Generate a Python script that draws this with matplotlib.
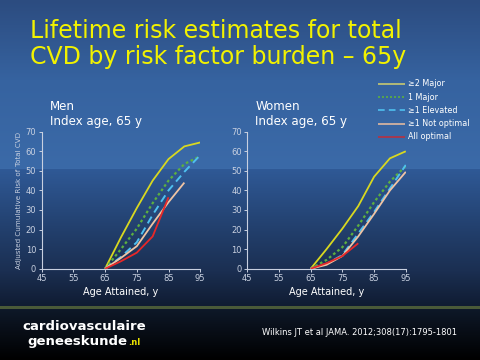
import numpy as np
import matplotlib
matplotlib.use("Agg")
import matplotlib.pyplot as plt

# ---- data ----
ages = [65, 70, 75, 80, 85, 90, 95]
series_names = ["\u22652 Major", "1 Major", "\u22651 Elevated", "\u22651 Not optimal", "All optimal"]

men_two_major = [0, 16, 31, 45, 56, 62.5, 64.5]
men_one_major = [0, 10, 20.5, 33.5, 45, 53.5, 57.5]
men_elevated = [0, 6, 13.5, 27.5, 40, 49.5, 58]
men_not_optimal = [0, 5.5, 11.5, 23, 34, 44]
men_all_optimal = [0, 3.8, 8.2, 16.5, 36.5]

women_two_major = [0, 10, 20.5, 32, 47, 56.4, 60]
women_one_major = [0, 4.5, 11, 22, 34, 44.5, 52.5]
women_elevated = [0, 2.5, 7, 18, 29, 41, 53]
women_not_optimal = [0, 2, 6.5, 16.5, 28, 40, 49.5]
women_all_optimal = [0, 2.8, 6.5, 13]

men = [men_two_major, men_one_major, men_elevated, men_not_optimal, men_all_optimal]
women = [women_two_major, women_one_major, women_elevated, women_not_optimal, women_all_optimal]

x_ticks = [45, 55, 65, 75, 85, 95]
y_ticks = [0, 10, 20, 30, 40, 50, 60, 70]

colors = ["#d8d820", "#5cb040", "#4ec0f0", "#f0c4a4", "#e82828"]
legend_colors = ["#c8c870", "#5cb040", "#4ec0f0", "#e0b8a0", "#b83040"]
styles = [(0, ()), (0, (1.2, 1.2)), (0, (4, 2.5)), (0, ()), (0, ())]
widths = [1.3, 1.6, 1.4, 1.3, 1.3]

fig = plt.figure(figsize=(4.8, 3.6), dpi=100)

# ---- background ----
bg = fig.add_axes([0, 0, 1, 1], zorder=-10)
bg.set_axis_off()
H = 360
col = np.zeros((H, 1, 3))
def hexrgb(h):
    h = h.lstrip('#')
    return np.array([int(h[i:i+2], 16) / 255 for i in (0, 2, 4)])
stops = [(0, "#2c4c80"), (80, "#3663a0"), (168, "#3b6aa8"), (169, "#2f5996"),
         (230, "#223f6c"), (270, "#1b2f52"), (305, "#101c32"),
         (306, "#4a5a38"), (308, "#4a5a38"), (309, "#0e1828"), (359, "#000000")]
for y in range(H):
    for (y0, c0), (y1, c1) in zip(stops[:-1], stops[1:]):
        if y0 <= y <= y1:
            t = 0 if y1 == y0 else (y - y0) / (y1 - y0)
            col[y, 0] = hexrgb(c0) * (1 - t) + hexrgb(c1) * t
            break
bg.imshow(col, aspect='auto', extent=[0, 1, 0, 1], transform=bg.transAxes)
bg.set_xlim(0, 1); bg.set_ylim(0, 1)

# ---- title ----
fig.text(30 / 480, 1 - 38 / 360, "Lifetime risk estimates for total", color="#f2f200",
         fontsize=17, family="DejaVu Sans", va="baseline", ha="left")
fig.text(30 / 480, 1 - 64 / 360, "CVD by risk factor burden \u2013 65y", color="#f2f200",
         fontsize=17, family="DejaVu Sans", va="baseline", ha="left")

# ---- panels ----
def panel(left, data, label, ylabel):
    ax = fig.add_axes([left / 480, 1 - 268.7 / 360, 158.5 / 480, 137 / 360])
    ax.set_facecolor("none")
    for vals, c, ls, w in zip(data, colors, styles, widths):
        ax.plot(ages[:len(vals)], vals, color=c, lw=w, linestyle=ls)
    ax.set_xlim(45, 95)
    ax.set_ylim(0, 70)
    ax.set_xticks(x_ticks)
    ax.set_yticks(y_ticks)
    for s in ["top", "right"]:
        ax.spines[s].set_visible(False)
    for s in ["left", "bottom"]:
        ax.spines[s].set_color("#c8d0e0")
        ax.spines[s].set_linewidth(0.8)
    ax.tick_params(colors="#c8d0e0", labelsize=6, length=2.5, width=0.7, pad=1.5)
    ax.set_xlabel("Age Attained, y", color="white", fontsize=7, labelpad=3)
    if ylabel:
        ax.text(-0.145, 0.0, "Adjusted Cumulative Risk of", transform=ax.transAxes,
                rotation=90, color="#c8d0e0", fontsize=5.1, ha="center", va="bottom")
        ax.text(-0.145, 1.0, "Total CVD", transform=ax.transAxes,
                rotation=90, color="#c8d0e0", fontsize=5.1, ha="center", va="top")
    fig.text((left + 8) / 480, 1 - 110 / 360, label[0], color="white", fontsize=8.6, va="baseline")
    fig.text((left + 8) / 480, 1 - 125 / 360, label[1], color="white", fontsize=8.6, va="baseline")
    return ax

panel(41.7, men, ("Men", "Index age, 65 y"), True)
panel(247.3, women, ("Women", "Index age, 65 y"), False)

# ---- legend ----
for i, (name, c, ls) in enumerate(zip(series_names, legend_colors, styles)):
    y = 1 - (84 + i * 13.2) / 360
    fig.add_artist(plt.Line2D([378 / 480, 405 / 480], [y, y], color=c, lw=1.2,
                              linestyle=ls, transform=fig.transFigure))
    fig.text(408 / 480, y, name, color="white", fontsize=5.8, va="center", ha="left")

# ---- footer ----
fig.text(22 / 480, 1 - 330 / 360, "cardiovasculaire", color="white", fontsize=9.5,
         fontweight="bold", va="baseline")
g = fig.text(27 / 480, 1 - 345 / 360, "geneeskunde", color="white", fontsize=9.5,
             fontweight="bold", va="baseline")
fig.canvas.draw()
ext = g.get_window_extent()
fig.text(ext.x1 / 480 + 0.002, 1 - 345 / 360, ".nl", color="#e8e000", fontsize=6,
         fontweight="bold", va="baseline")
fig.text(262 / 480, 1 - 335 / 360, "Wilkins JT et al JAMA. 2012;308(17):1795-1801",
         color="white", fontsize=6.0, va="baseline")

fig.savefig("out.png", dpi=100)
